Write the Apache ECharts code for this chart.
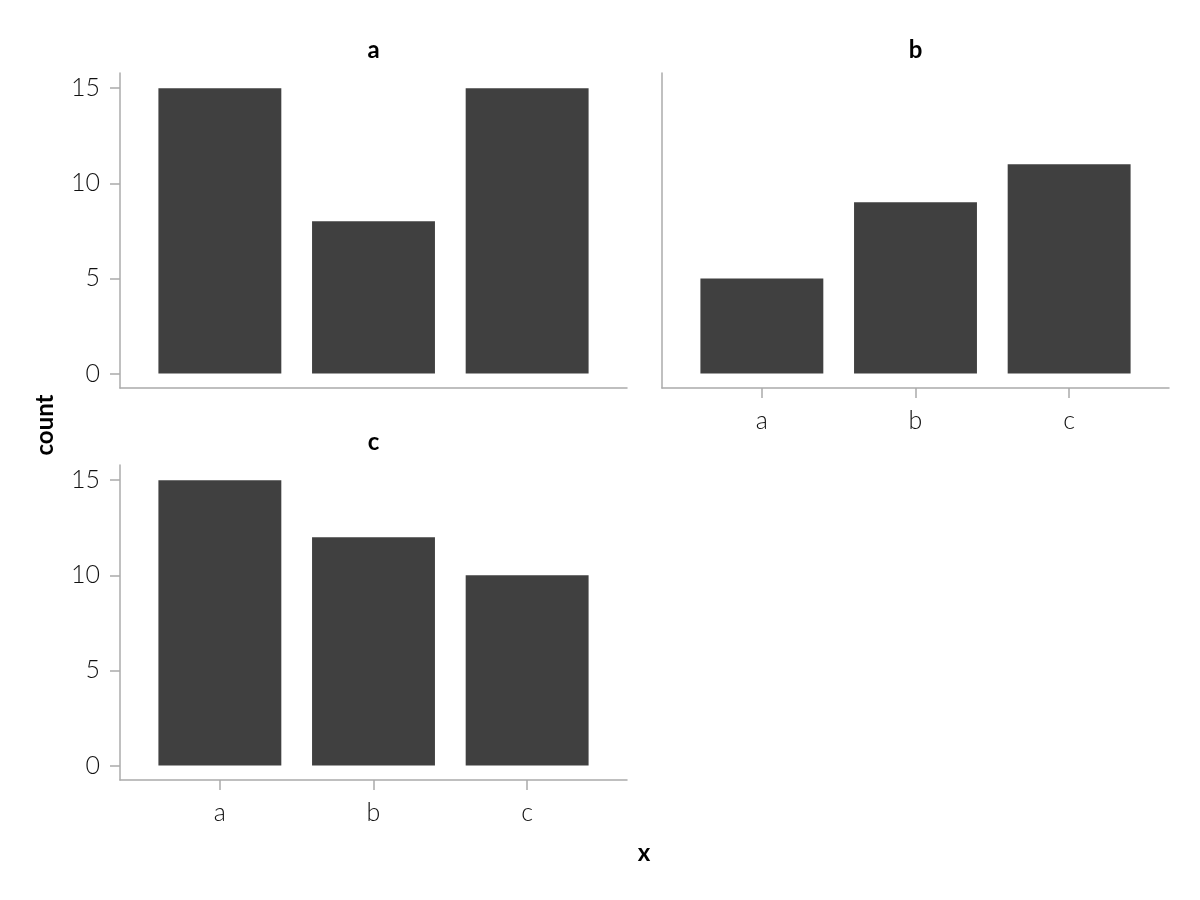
<!DOCTYPE html>
<html>
<head>
<meta charset="utf-8">
<script src="https://cdn.jsdelivr.net/npm/echarts@6/dist/echarts.min.js"></script>
<style>
html,body{margin:0;padding:0;background:#fff;}
#chart{width:1200px;height:900px;}
</style>
</head>
<body>
<div id="chart"></div>
<script>
const categories = ['a', 'b', 'c'];
const panelNames = ['a', 'b', 'c'];
const countsA = [15, 8, 15];
const countsB = [5, 9, 11];
const countsC = [15, 12, 10];
const yTicks = [0, 5, 10, 15];
const xTicks = [1, 2, 3];
const yTitle = 'count';
const xTitle = 'x';

const FONT = 'Lato';
const AXIS_COLOR = '#ababab';
const BAR_COLOR = '#404040';

const grids = [
  { left: 120, top: 73, width: 507, height: 315 },
  { left: 662, top: 73, width: 507, height: 315 },
  { left: 120, top: 465, width: 507, height: 315 }
];
const panelData = [countsA, countsB, countsC];
const showXLabels = [false, true, true];
const showYLabels = [true, false, true];
const X_MIN = 0.35, X_MAX = 3.65;

const xAxes = grids.map((g, i) => ({
  type: 'value', gridIndex: i, min: X_MIN, max: X_MAX,
  axisLine: { show: true, onZero: false, lineStyle: { color: AXIS_COLOR, width: 1.5 } },
  axisTick: { show: showXLabels[i], customValues: xTicks, length: 10, lineStyle: { color: AXIS_COLOR, width: 1.5 } },
  axisLabel: { show: showXLabels[i], customValues: xTicks, margin: 20,
    formatter: v => categories[Math.round(v) - 1] || '',
    fontFamily: FONT, fontWeight: 300, fontSize: 25, color: '#111' },
  splitLine: { show: false }
}));
const yAxes = grids.map((g, i) => ({
  type: 'value', gridIndex: i, min: -0.76, max: 15.8,
  axisLine: { show: true, onZero: false, lineStyle: { color: AXIS_COLOR, width: 1.5 } },
  axisTick: { show: showYLabels[i], customValues: yTicks, length: 10, lineStyle: { color: AXIS_COLOR, width: 1.5 } },
  axisLabel: { show: showYLabels[i], customValues: yTicks, margin: 20,
    fontFamily: FONT, fontWeight: 300, fontSize: 25, color: '#111' },
  splitLine: { show: false }
}));
const series = panelData.map((vals, i) => ({
  type: 'bar', xAxisIndex: i, yAxisIndex: i,
  data: vals.map((v, k) => [k + 1, v]),
  barWidth: 0.8 * grids[i].width / (X_MAX - X_MIN),
  itemStyle: { color: BAR_COLOR },
  silent: true
}));
const boldText = { fontFamily: FONT, fontWeight: 'bold', fontSize: 24, fill: '#000', align: 'center', verticalAlign: 'middle' };
const titleGraphics = panelNames.map((n, i) => ({
  type: 'text',
  x: grids[i].left + grids[i].width / 2,
  y: grids[i].top - 23,
  style: Object.assign({ text: n }, boldText)
}));

const chart = echarts.init(document.getElementById('chart'), null, { renderer: 'canvas' });
chart.setOption({
  animation: false,
  backgroundColor: '#fff',
  grid: grids.map(g => Object.assign({ containLabel: false }, g)),
  xAxis: xAxes,
  yAxis: yAxes,
  series: series,
  graphic: titleGraphics.concat([
    { type: 'text', x: 45, y: 425, rotation: Math.PI / 2, style: Object.assign({ text: yTitle }, boldText) },
    { type: 'text', x: 644, y: 853, style: Object.assign({ text: xTitle }, boldText) }
  ])
});
</script>
</body>
</html>
